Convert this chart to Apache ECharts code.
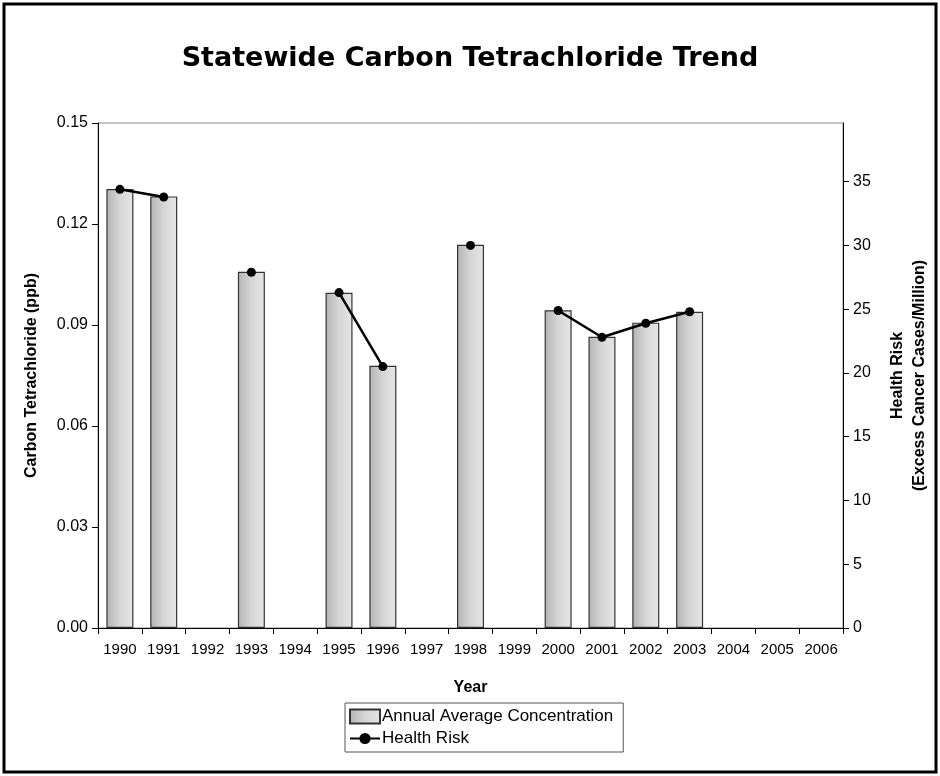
<!DOCTYPE html>
<html lang="en">
<head>
  <meta charset="UTF-8">
  <title>Statewide Carbon Tetrachloride Trend</title>
  <style>
    html, body { margin: 0; padding: 0; background: #fff; }
    #chart { width: 940px; height: 776px; }
  </style>
</head>
<body>
  <div id="chart"></div>
  <script src="https://cdn.jsdelivr.net/npm/echarts@6/dist/echarts.min.js"></script>
  <script>
    // years along the x axis (empty years have no reading)
    const years = ['1990', '1991', '1992', '1993', '1994', '1995', '1996', '1997', '1998',
      '1999', '2000', '2001', '2002', '2003', '2004', '2005', '2006'];
    // annual average concentration, ppb
    const concentration = [0.1304, 0.1282, null, 0.1058, null, 0.0996, 0.0779, null, 0.1138,
      null, 0.0944, 0.0865, 0.0907, 0.0939, null, null, null];
    // health risk, excess cancer cases per million
    const healthRisk = [34.4, 33.8, null, 27.9, null, 26.3, 20.5, null, 30.0,
      null, 24.9, 22.8, 23.9, 24.8, null, null, null];

    const leftTicks = { min: 0, max: 0.15, interval: 0.03 };
    const rightTicks = { min: 0, max: 39.6, interval: 5 };

    const font = "'Liberation Sans', Arial, sans-serif";
    const chart = echarts.init(document.getElementById('chart'));

    chart.setOption({
      animation: false,
      title: {
        text: 'Statewide Carbon Tetrachloride Trend',
        left: 'center',
        top: 40,
        textStyle: { fontFamily: "'DejaVu Sans', sans-serif", fontSize: 27, fontWeight: 'bold', color: '#000' }
      },
      graphic: [{
        type: 'rect',
        shape: { x: 4, y: 4, width: 932, height: 768 },
        style: { fill: 'none', stroke: '#000', lineWidth: 3 },
        silent: true
      }],
      legend: {
        orient: 'vertical',
        left: 345,
        top: 703,
        padding: [5, 10, 5, 4],
        itemGap: 5,
        itemWidth: 30,
        itemHeight: 14,
        borderColor: '#555',
        borderWidth: 1,
        textStyle: { fontFamily: font, fontSize: 17, color: '#000', padding: [0, 0, 0, -3] },
        data: [
          { name: 'Annual Average Concentration', icon: 'rect' },
          { name: 'Health Risk' }
        ]
      },
      grid: {
        left: 98,
        right: 97,
        top: 123,
        bottom: 148,
        outerBoundsMode: 'none',
        show: true,
        borderColor: '#888',
        borderWidth: 1
      },
      xAxis: {
        type: 'category',
        data: years,
        name: 'Year',
        nameLocation: 'middle',
        nameGap: 52,
        nameTextStyle: { fontFamily: font, fontSize: 16, fontWeight: 'bold', color: '#000' },
        axisLine: { lineStyle: { color: '#000', width: 1 } },
        axisTick: { show: true, length: 6, lineStyle: { color: '#000' } },
        axisLabel: { fontFamily: font, fontSize: 15, color: '#000', margin: 14, interval: 0 }
      },
      yAxis: [{
        type: 'value',
        min: leftTicks.min,
        max: leftTicks.max,
        interval: leftTicks.interval,
        name: 'Carbon Tetrachloride (ppb)',
        nameLocation: 'middle',
        nameGap: 58,
        nameTextStyle: { fontFamily: font, fontSize: 16, fontWeight: 'bold', color: '#000' },
        axisLine: { show: true, lineStyle: { color: '#000' } },
        axisTick: { show: true, length: 6, lineStyle: { color: '#000' } },
        axisLabel: { fontFamily: font, fontSize: 16, color: '#000', margin: 10, formatter: v => v.toFixed(2) },
        splitLine: { show: false }
      }, {
        type: 'value',
        position: 'right',
        min: rightTicks.min,
        max: rightTicks.max,
        interval: rightTicks.interval,
        name: 'Health Risk\n(Excess Cancer Cases/Million)',
        nameLocation: 'middle',
        nameGap: 44,
        nameRotate: 90,
        nameTextStyle: { fontFamily: font, fontSize: 16, fontWeight: 'bold', color: '#000', lineHeight: 22 },
        axisLine: { show: true, lineStyle: { color: '#000' } },
        axisTick: { show: true, length: 6, lineStyle: { color: '#000' } },
        axisLabel: { fontFamily: font, fontSize: 16, color: '#000', margin: 10, showMaxLabel: false },
        splitLine: { show: false }
      }],
      series: [{
        name: 'Annual Average Concentration',
        type: 'bar',
        yAxisIndex: 0,
        barWidth: 27,
        data: concentration,
        itemStyle: {
          color: new echarts.graphic.LinearGradient(0, 0, 1, 0, [
            { offset: 0, color: '#b4b4b4' },
            { offset: 0.5, color: '#d6d6d6' },
            { offset: 1, color: '#e6e6e6' }
          ]),
          borderColor: '#333',
          borderWidth: 1.2
        }
      }, {
        name: 'Health Risk',
        type: 'line',
        yAxisIndex: 1,
        data: healthRisk,
        connectNulls: false,
        symbol: 'circle',
        symbolSize: 9,
        lineStyle: { color: '#000', width: 2.5 },
        itemStyle: { color: '#000' },
        z: 5
      }]
    });
  </script>
</body>
</html>
